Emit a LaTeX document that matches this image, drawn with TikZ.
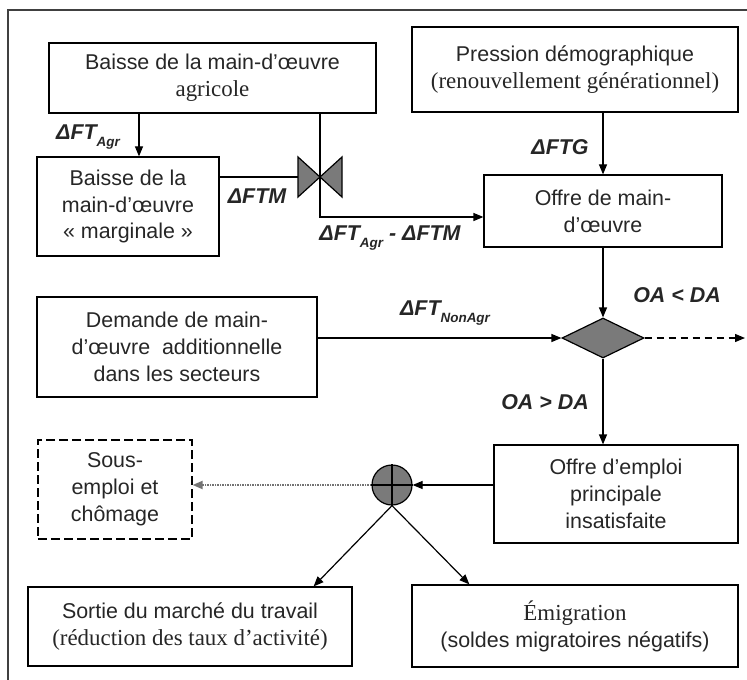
\documentclass[tikz,border=0pt]{standalone}
\usepackage{fontspec}
\setmainfont{Liberation Sans}
\newfontfamily\serif{Liberation Serif}
\usetikzlibrary{arrows.meta,shapes.geometric,calc}
\newcommand\lsub[1]{\raisebox{-0.3em}{\fontsize{13.5}{13.5}\selectfont #1}}
\begin{document}
\begin{tikzpicture}[x=1bp,y=-1bp,
  box/.style={draw=black, line width=1.2bp, align=center, inner sep=0pt,
    font=\fontsize{21.5}{27}\selectfont, text=black!85},
  lab/.style={font=\fontsize{21.5}{26}\selectfont\bfseries\itshape, text=black!85, inner sep=0pt},
  arr/.style={-{Triangle[length=10bp,width=8bp]}, line width=1.2bp}]
\useasboundingbox (0,0) rectangle (747,680);
\draw[line width=2bp, black!75] (8,680) -- (8,10) -- (747,10);

% boxes
\node[box, minimum width=327bp, minimum height=70bp] (A) at (212.5,78)
  {Baisse de la main-d’œuvre\\{\serif\fontsize{23}{27}\selectfont agricole}};
\node[box, minimum width=182bp, minimum height=99bp] (B) at (128,206.5)
  {Baisse de la\\main-d’œuvre\\« marginale »};
\node[box, minimum width=326bp, minimum height=85bp] (C) at (575,69.5)
  {Pression démographique\\{\serif\fontsize{23}{27}\selectfont (renouvellement générationnel)}};
\node[box, minimum width=238bp, minimum height=72bp] (D) at (603,211)
  {Offre de main-\\d’œuvre};
\node[box, minimum width=280bp, minimum height=100bp] (E) at (177,347)
  {Demande de main-\\d’œuvre \ additionnelle\\dans les secteurs};
\node[draw=black, line width=1.2bp, fill=black!52, diamond, aspect=2.05,
  minimum width=82bp, minimum height=40bp, inner sep=0pt] (Q) at (603,338) {};
\node[box, minimum width=244bp, minimum height=98bp] (F) at (616,494)
  {Offre d\char"0027emploi\\principale\\insatisfaite};
\node[draw=black, line width=1.2bp, fill=black!52, circle, minimum size=40bp, inner sep=0pt] (X) at (392,485) {};
\draw[line width=1.2bp] (X.north) -- (X.south) (X.west) -- (X.east);
\node[box, dash pattern=on 9bp off 4bp, minimum width=154bp, minimum height=99bp] (G) at (115,489.5)
  {Sous-\\emploi et\\chômage};
\node[box, minimum width=324bp, minimum height=79bp] (H) at (190,626.5)
  {Sortie du marché du travail\\{\serif\fontsize{23}{27}\selectfont (réduction des taux d’activité)}};
\node[box, minimum width=326bp, minimum height=82bp] (I) at (575,626)
  {\serif\fontsize{23}{27}\selectfont Émigration\\(soldes migratoires négatifs)};

% valve
\coordinate (V) at (320,177);
\draw[line width=1.2bp, fill=black!52] (V) -- ++(-22,-20) -- ++(0,40) -- cycle;
\draw[line width=1.2bp, fill=black!52] (V) -- ++(22,-20) -- ++(0,40) -- cycle;
\coordinate (bend) at (320,217);

% connectors
\draw[arr] (A.south -| 139,0) -- (B.north -| 139,0);
\draw[line width=1.2bp] (B.east |- V) -- ($(V)+(-22,0)$);
\draw[arr] (A.south -| V) -- (bend) -- (bend -| D.west);
\draw[arr] (C.south -| D.north) -- (D.north);
\draw[arr] (D.south) -- (Q.north);
\draw[arr] (E.east |- Q.west) -- (Q.west);
\draw[arr, dash pattern=on 7bp off 5bp] (Q.east) -- (745,338);
\draw[arr] (Q.south) -- (Q.south |- F.north);
\draw[arr] (F.west |- X.east) -- (X.east);
\draw[-{Triangle[length=10bp,width=8bp]}, line width=2bp, black!55, dash pattern=on 1.5bp off 1bp] (X.west) -- (G.east |- X.west);
\draw[arr] (X.south) -- ($(H.north east)+(-39,0)$);
\draw[arr] (X.south) -- ($(I.north west)+(58,0)$);

% labels
\node[lab] (l1) at (88,137) {ΔFT\lsub{Agr}};
\node[lab] (l2) at (257,196) {ΔFTM};
\node[lab] (l3) at (390,238) {ΔFT\lsub{Agr} - ΔFTM};
\node[lab] (l4) at (560,147) {ΔFTG};
\node[lab] (l5) at (445,313) {ΔFT\lsub{NonAgr}};
\node[lab] (l6) at (677,295) {OA < DA};
\node[lab] (l7) at (545,402) {OA > DA};
\end{tikzpicture}
\end{document}
